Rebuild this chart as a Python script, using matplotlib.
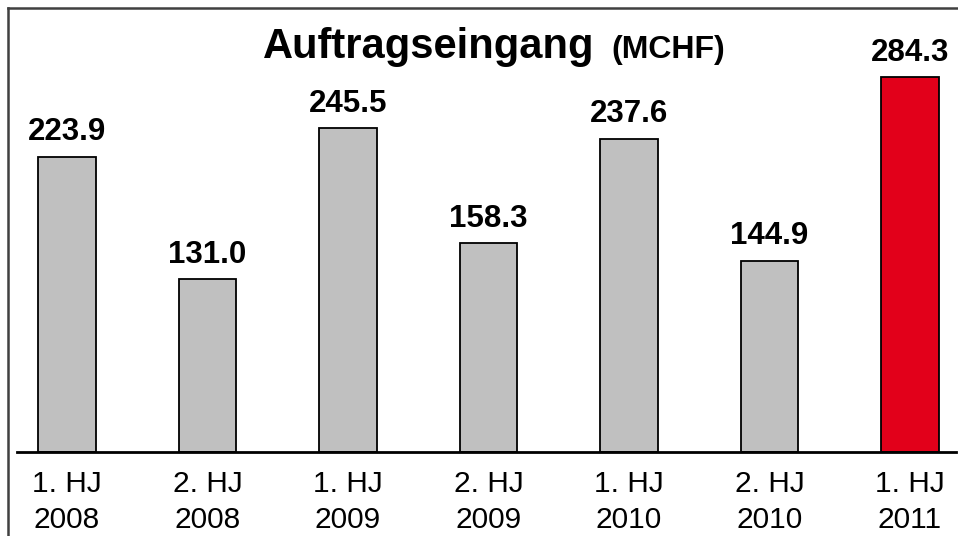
import matplotlib
matplotlib.use("Agg")
import matplotlib.pyplot as plt
from matplotlib.lines import Line2D

categories = ["1. HJ\n2008", "2. HJ\n2008", "1. HJ\n2009", "2. HJ\n2009",
              "1. HJ\n2010", "2. HJ\n2010", "1. HJ\n2011"]
values = [223.9, 131.0, 245.5, 158.3, 237.6, 144.9, 284.3]
value_labels = ["223.9", "131.0", "245.5", "158.3", "237.6", "144.9", "284.3"]
colors = ["#C0C0C0"] * 6 + ["#E2001A"]

W, H = 958, 536
plt.rcParams['font.family'] = ['Liberation Sans', 'DejaVu Sans']
fig = plt.figure(figsize=(W / 100, H / 100), dpi=100)

# axes in pixel layout
ax_left, ax_right = 17, 956
ax_bottom_px = 452
ax_top_px = 452 - 300 * 1.318
ax = fig.add_axes([ax_left / W, (H - ax_bottom_px) / H,
                   (ax_right - ax_left) / W, (ax_bottom_px - ax_top_px) / H])

x = list(range(len(values)))
ax.bar(x, values, width=0.41, color=colors, edgecolor="black", linewidth=1.3, zorder=2)
ax.set_xlim(-0.356, 6.327)
ax.set_ylim(0, 300)

for xi, v, lab in zip(x, values, value_labels):
    ax.annotate(lab, (xi, v), xytext=(0, 12), textcoords="offset points",
                ha="center", va="baseline", fontsize=22.5, fontweight="bold")

ax.set_xticks(x)
ax.set_xticklabels(categories, fontsize=21.5, linespacing=1.37)
ax.tick_params(axis="x", length=0, pad=13)
ax.set_yticks([])
for s in ["top", "left", "right"]:
    ax.spines[s].set_visible(False)
ax.spines["bottom"].set_linewidth(2)
ax.spines["bottom"].set_color("black")
ax.patch.set_alpha(0)

# title
fig.text(594 / W, 1 - 58 / H, "Auftragseingang", ha="right", va="baseline",
         fontsize=30, fontweight="bold")
fig.text(611 / W, 1 - 58 / H, "(MCHF)", ha="left", va="baseline",
         fontsize=23, fontweight="bold")

# outer frame lines (top and left)
fig.add_artist(Line2D([8 / W, 1.0], [1 - 7.5 / H, 1 - 7.5 / H], color="#404040",
                      linewidth=1.8, transform=fig.transFigure))
fig.add_artist(Line2D([8 / W, 8 / W], [0, 1 - 7.5 / H], color="#404040",
                      linewidth=1.8, transform=fig.transFigure))

fig.savefig("out.png", dpi=100)
